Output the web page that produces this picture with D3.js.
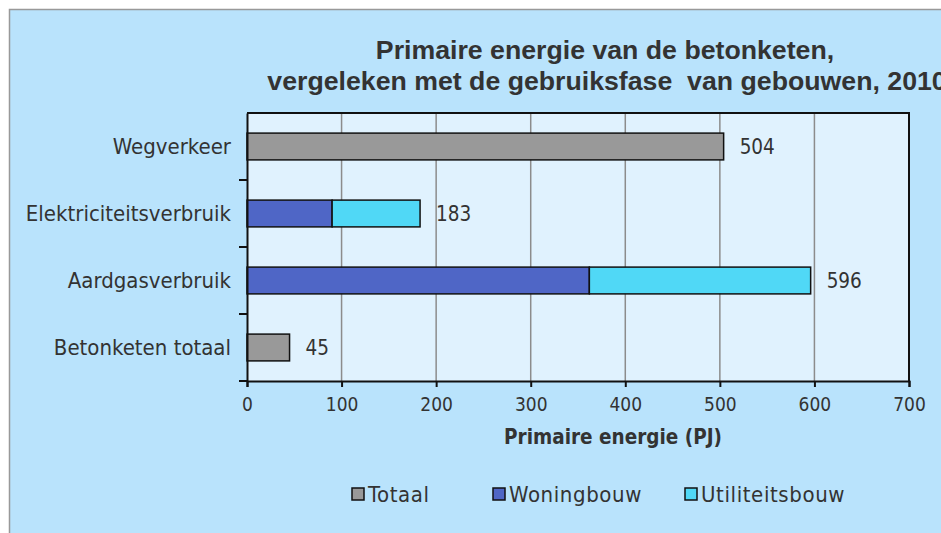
<!DOCTYPE html>
<html lang="nl">
<head>
<meta charset="UTF-8">
<title>Primaire energie van de betonketen</title>
<script src="https://d3js.org/d3.v7.min.js"></script>
<style>
    body { margin: 0; background: #fff; }
    .title { font-family: "Liberation Sans", Arial, sans-serif; font-weight: bold; font-size: 26.7px; fill: #333; text-anchor: middle; }
    .lbl { font-family: "DejaVu Sans Condensed", "DejaVu Sans", sans-serif; font-stretch: condensed; font-size: 22px; fill: #333; }
    .val { font-family: "DejaVu Sans Condensed", "DejaVu Sans", sans-serif; font-stretch: condensed; font-size: 20.5px; fill: #333; }
    .tick-lbl { font-family: "DejaVu Sans Condensed", "DejaVu Sans", sans-serif; font-stretch: condensed; font-size: 19px; fill: #333; }
    .leg { font-family: "DejaVu Sans Condensed", "DejaVu Sans", sans-serif; font-stretch: condensed; font-size: 22px; fill: #333; letter-spacing: 0.6px; }
    .axis-title { font-family: "DejaVu Sans Condensed", "DejaVu Sans", sans-serif; font-stretch: condensed; font-weight: bold; font-size: 20.5px; fill: #333; text-anchor: middle; }
</style>
</head>
<body>
<div id="chart"></div>
<script>
    const categories = ["Wegverkeer", "Elektriciteitsverbruik", "Aardgasverbruik", "Betonketen totaal"];
    const seriesNames = ["Totaal", "Woningbouw", "Utiliteitsbouw"];
    const totaal = [504, 0, 0, 45];
    const woningbouw = [0, 90, 362, 0];
    const utiliteitsbouw = [0, 93, 234, 0];
    const totals = [504, 183, 596, 45];
    const xTicks = [0, 100, 200, 300, 400, 500, 600, 700];

    const colors = ["#999999", "#4f66c6", "#50d8f6"];
    const W = 941, H = 533;
    const plot = { left: 247, right: 909, top: 113, bottom: 381 };

    const svg = d3.select("#chart").append("svg")
        .attr("width", W).attr("height", H);

    // outer panel
    svg.append("rect")
        .attr("x", 9.5).attr("y", 9.5)
        .attr("width", W).attr("height", H)
        .attr("fill", "#b9e3fc")
        .attr("stroke", "#999").attr("stroke-width", 1.5);

    svg.append("text").attr("class", "title")
        .attr("x", 605).attr("y", 59)
        .text("Primaire energie van de betonketen,");
    svg.append("text").attr("class", "title")
        .attr("x", 607).attr("y", 90)
        .text("vergeleken met de gebruiksfase  van gebouwen, 2010")
        .style("white-space", "pre");

    const x = d3.scaleLinear().domain([0, 700]).range([plot.left, plot.right]);
    const y = d3.scaleBand().domain(categories).range([plot.top, plot.bottom]).paddingInner(0.6).paddingOuter(0.3);
    const yb = d3.scaleBand().domain(categories).range([plot.top, plot.bottom]);

    // plot area
    svg.append("rect")
        .attr("x", plot.left).attr("y", plot.top)
        .attr("width", plot.right - plot.left).attr("height", plot.bottom - plot.top)
        .attr("fill", "#e0f2fe");

    // gridlines
    svg.append("g").selectAll("line")
        .data(xTicks.slice(1, -1))
        .join("line")
        .attr("x1", d => x(d)).attr("x2", d => x(d))
        .attr("y1", plot.top).attr("y2", plot.bottom)
        .attr("stroke", "#8c8c8c").attr("stroke-width", 1.5);

    // stacked bars
    const rows = categories.map((c, i) => ({ cat: c, Totaal: totaal[i], Woningbouw: woningbouw[i], Utiliteitsbouw: utiliteitsbouw[i] }));
    const stack = d3.stack().keys(seriesNames)(rows);

    svg.append("g").selectAll("g")
        .data(stack)
        .join("g")
        .attr("fill", (d, i) => colors[i])
        .selectAll("rect")
        .data(d => d.filter(s => s[1] - s[0] > 0))
        .join("rect")
        .attr("x", d => x(d[0]))
        .attr("y", d => y(d.data.cat))
        .attr("width", d => x(d[1]) - x(d[0]))
        .attr("height", y.bandwidth())
        .attr("stroke", "#111").attr("stroke-width", 1.5);

    // value labels
    svg.append("g").selectAll("text")
        .data(categories)
        .join("text")
        .attr("class", "val")
        .attr("x", (d, i) => x(totals[i]) + 16)
        .attr("y", d => y(d) + y.bandwidth() / 2)
        .attr("dy", "0.35em")
        .text((d, i) => totals[i]);

    // plot border right/top
    svg.append("path")
        .attr("d", `M${plot.left},${plot.top}H${plot.right}V${plot.bottom}`)
        .attr("fill", "none").attr("stroke", "#111").attr("stroke-width", 2);

    // x axis
    const xAxis = svg.append("g")
        .attr("transform", `translate(0,${plot.bottom})`)
        .call(d3.axisBottom(x).tickValues(xTicks).tickSize(6).tickPadding(11));
    xAxis.select(".domain").attr("stroke", "#111").attr("stroke-width", 2);
    xAxis.selectAll(".tick line").attr("stroke", "#111").attr("stroke-width", 2);
    xAxis.selectAll(".tick text").attr("class", "tick-lbl").attr("font-family", null).attr("font-size", null).attr("fill", null);

    // y axis
    const yAxis = svg.append("g")
        .attr("transform", `translate(${plot.left},0)`)
        .call(d3.axisLeft(yb).tickSize(0).tickPadding(16));
    yAxis.select(".domain").attr("stroke", "#111").attr("stroke-width", 2);
    yAxis.selectAll(".tick text").attr("class", "lbl").attr("font-family", null).attr("font-size", null).attr("fill", null)
        .attr("dy", "0.35em").attr("y", d => y(d) + y.bandwidth() / 2 - yb(d) - yb.bandwidth() / 2);
    // separator ticks between categories
    yAxis.append("g").selectAll("line")
        .data(categories.slice(1).concat(["end"]))
        .join("line")
        .attr("x1", -8).attr("x2", 0)
        .attr("y1", d => d === "end" ? plot.bottom : yb(d))
        .attr("y2", d => d === "end" ? plot.bottom : yb(d))
        .attr("stroke", "#111").attr("stroke-width", 2);

    svg.append("text").attr("class", "axis-title")
        .attr("x", 613).attr("y", 444)
        .text("Primaire energie (PJ)");

    // legend
    const legendX = [352, 493, 685];
    const legend = svg.append("g").selectAll("g")
        .data(seriesNames)
        .join("g")
        .attr("transform", (d, i) => `translate(${legendX[i]},488)`);
    legend.append("rect")
        .attr("width", 12).attr("height", 12)
        .attr("fill", (d, i) => colors[i])
        .attr("stroke", "#111").attr("stroke-width", 1.5);
    legend.append("text")
        .attr("class", "leg")
        .attr("x", 16).attr("y", 6).attr("dy", "0.35em")
        .text(d => d);
</script>
</body>
</html>
